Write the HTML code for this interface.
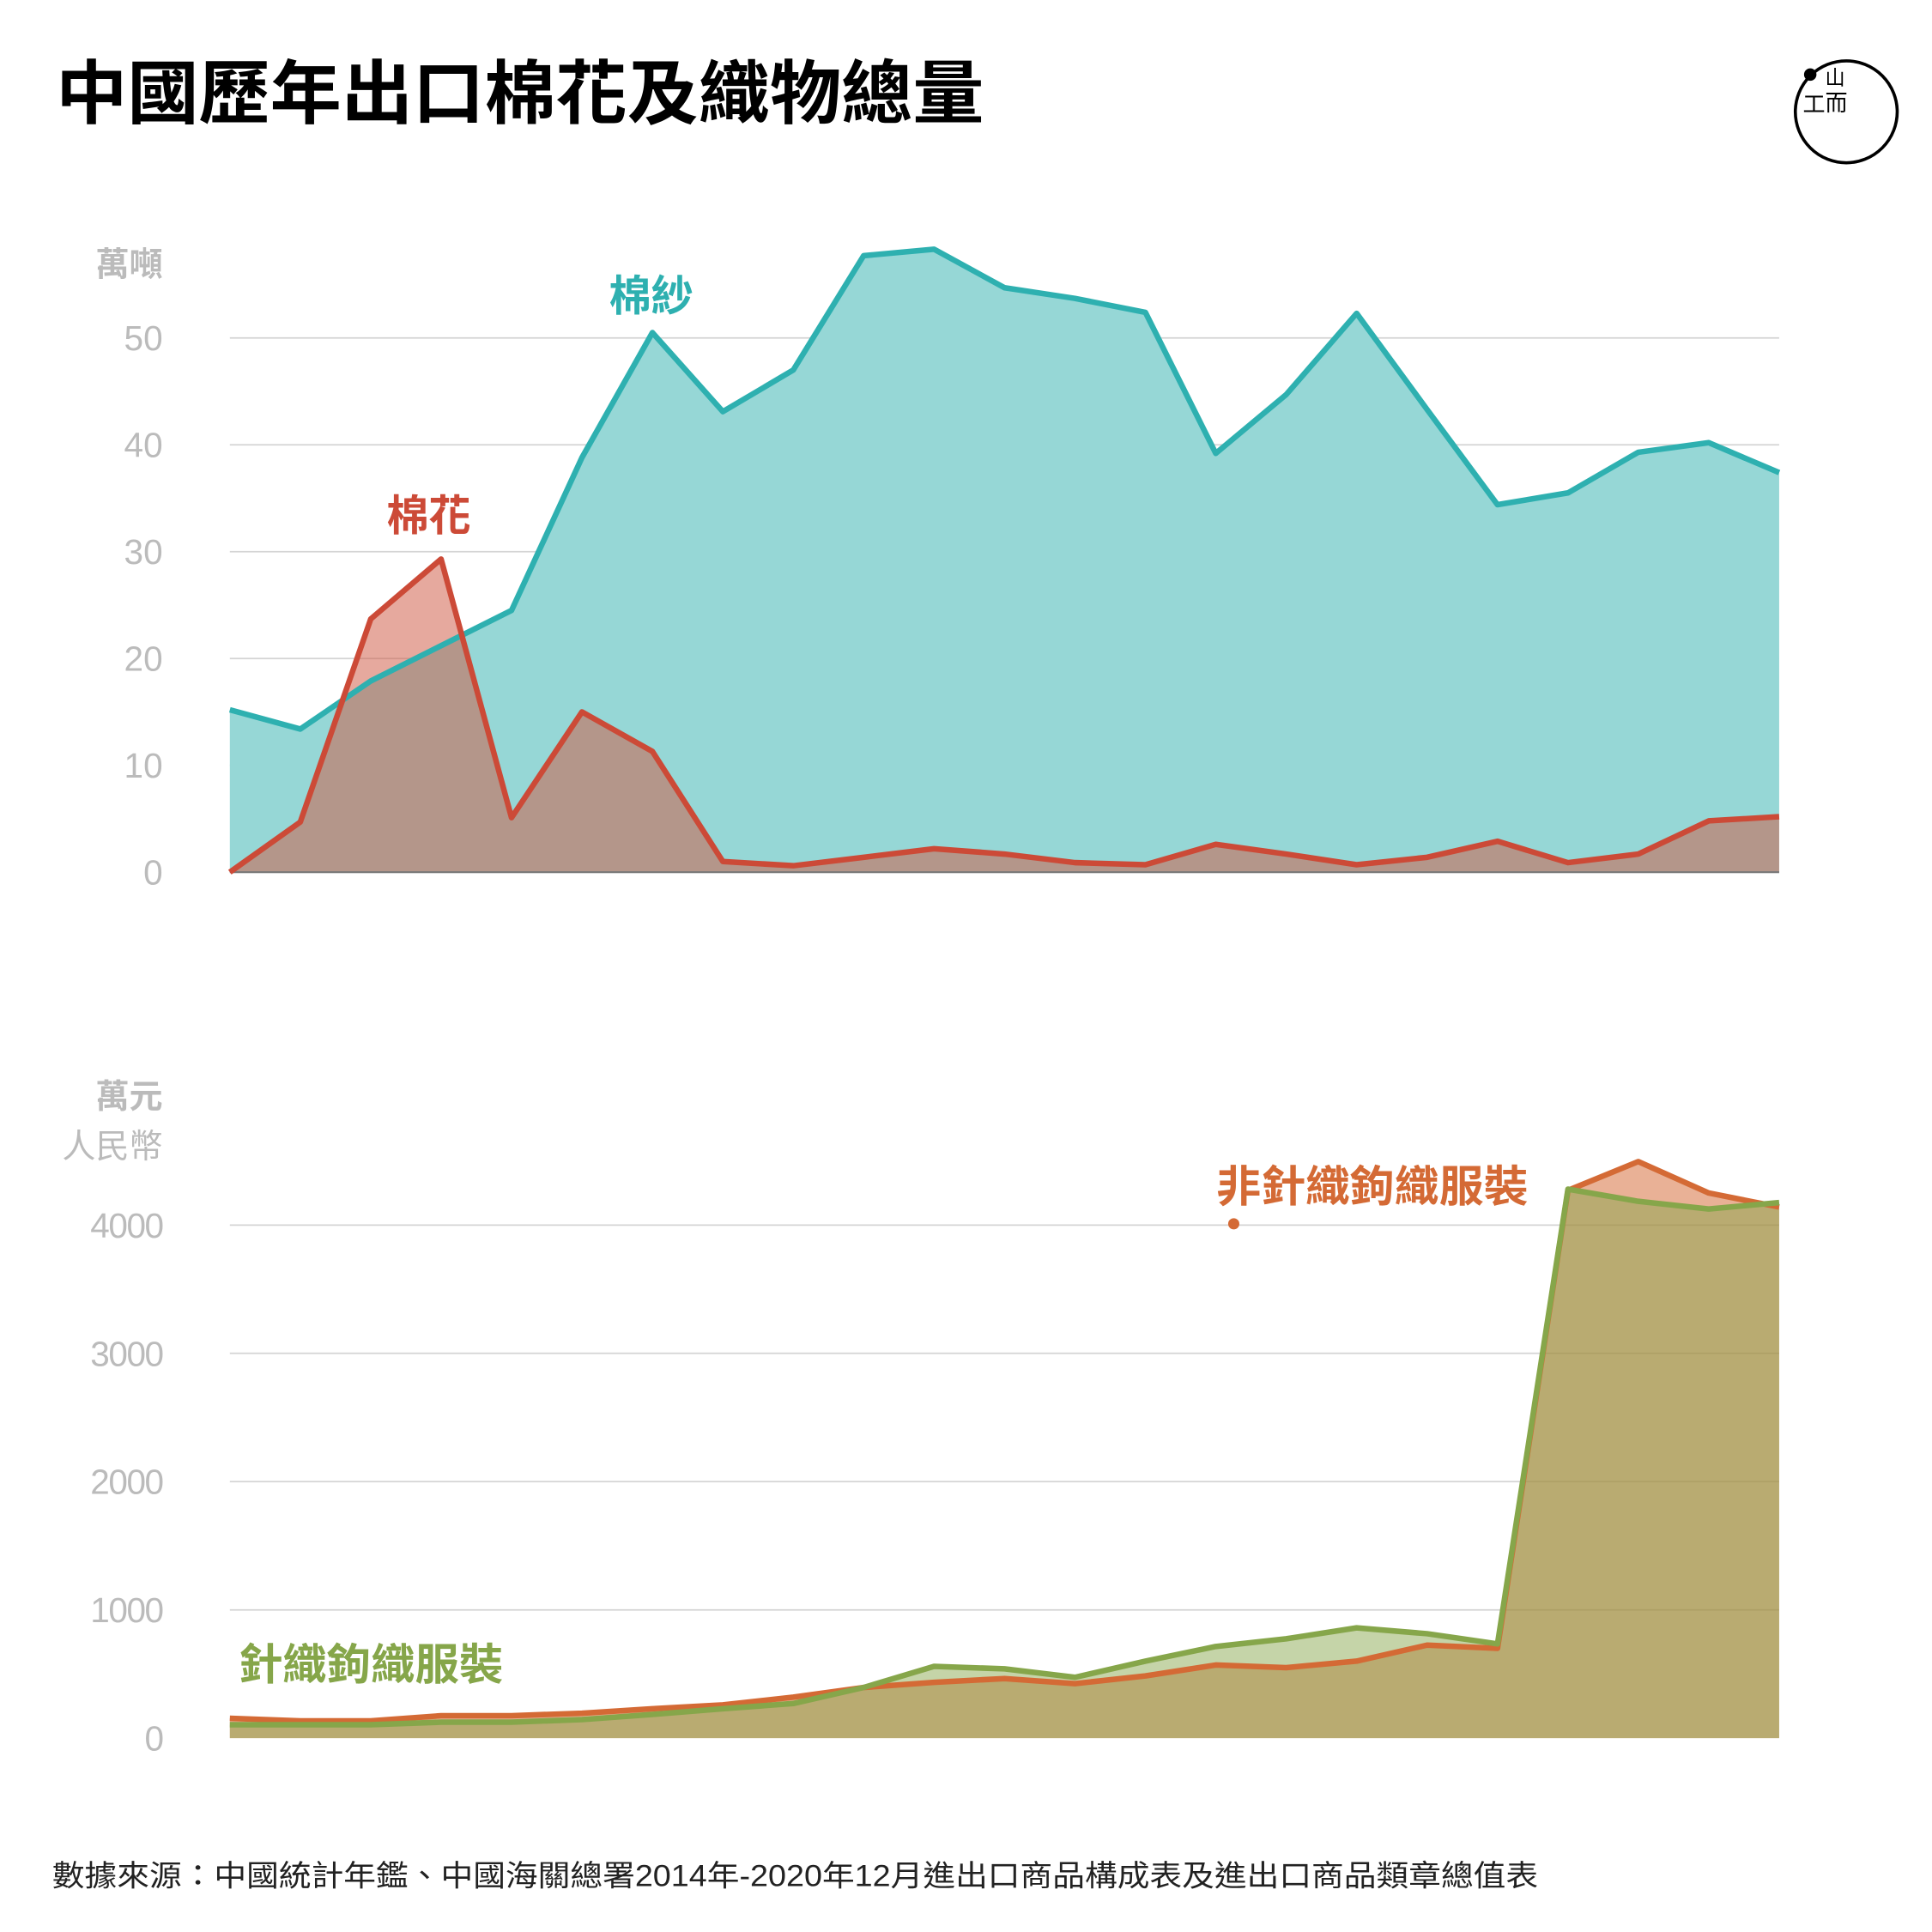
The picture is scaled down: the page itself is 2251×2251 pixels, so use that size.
<!DOCTYPE html>
<html><head><meta charset="utf-8">
<style>
html,body{margin:0;padding:0;background:#fff;}
svg{display:block;}
text{font-family:"Liberation Sans","Noto Sans CJK TC",sans-serif;}
</style></head>
<body>
<svg id="chart" width="2251" height="2251" viewBox="0 0 1555 1555" xmlns="http://www.w3.org/2000/svg">
<rect x="0" y="0" width="1555" height="1555" fill="#fff"/>
<text x="45" y="95" font-size="56" font-weight="bold" fill="#000" textLength="747" lengthAdjust="spacingAndGlyphs">中國歷年出口棉花及織物總量</text>
<g>
<circle cx="1486" cy="90" r="41" fill="none" stroke="#000" stroke-width="2.5"/>
<circle cx="1457" cy="60" r="5" fill="#000"/>
<text x="1451" y="90" font-size="18" fill="#000">工</text>
<text x="1469" y="68" font-size="16" fill="#000">山</text>
<text x="1469" y="89" font-size="18" fill="#000">而</text>
</g>
<g id="topChart"></g>
<g id="bottomChart"></g>
<text x="42" y="1518" font-size="24" fill="#222" textLength="1196" lengthAdjust="spacingAndGlyphs">數據來源：中國統計年鑑、中國海關總署2014年-2020年12月進出口商品構成表及進出口商品類章總值表</text>
</svg>
<script>
const years = [1,2,3,4,5,6,7,8,9,10,11,12,13,14,15,16,17,18,19,20,21,22,23];
const yarnValues = [15.2,13.4,17.9,21.2,24.5,38.8,50.5,43.1,47,57.7,58.3,54.7,53.7,52.4,39.2,44.7,52.3,43.3,34.4,35.5,39.3,40.2,37.4];
const cottonValues = [0,4.7,23.7,29.3,5.1,15,11.3,1,0.6,1.4,2.2,1.7,0.9,0.7,2.6,1.7,0.7,1.4,2.9,0.9,1.7,4.8,5.2];
const topTicks = [0,10,20,30,40,50];
const wovenValues = [155,135,135,175,175,195,230,260,320,395,435,465,425,485,570,550,600,725,700,4270,4495,4250,4140];
const knitValues = [105,105,105,125,125,145,185,230,270,395,560,540,475,600,715,775,860,815,735,4280,4185,4125,4175];
const bottomTicks = [0,1000,2000,3000,4000];

const NS = "http://www.w3.org/2000/svg";
const X0 = 185, X1 = 1432;
function xScale(i){ return X0 + (X1 - X0) * i / (years.length - 1); }
function yTop(v){ return 702 - v * 8.6; }
function yBot(v){ return 1399 - v * 0.10325; }
function mk(tag, attrs, parent){
  const e = document.createElementNS(NS, tag);
  for (const k in attrs) e.setAttribute(k, attrs[k]);
  parent.appendChild(e);
  return e;
}
function linePts(vals, ys){ return vals.map((v,i)=>xScale(i).toFixed(1)+","+ys(v).toFixed(1)).join(" "); }
function areaPts(vals, ys){ return xScale(0)+","+ys(0)+" "+linePts(vals, ys)+" "+xScale(vals.length-1)+","+ys(0); }

const topG = document.getElementById("topChart");
topTicks.forEach(t=>{
  const gl = mk("line",{x1:X0,x2:X1,y1:yTop(t),y2:yTop(t),stroke:"#d4d4d4","stroke-width":1.2},topG);
  
  
  const tl = mk("text",{x:131,y:yTop(t)+10,"font-size":28,fill:"#bbb","text-anchor":"end"},topG);
  tl.textContent = t;
  
  
});
const ya = mk("polygon",{points:areaPts(yarnValues,yTop),fill:"#96d7d6"},topG);


const ca = mk("polygon",{points:areaPts(cottonValues,yTop),fill:"#cf5a45","fill-opacity":0.52},topG);


const bl = mk("line",{x1:X0,x2:X1,y1:702,y2:702,stroke:"#777","stroke-width":1.5},topG);


const yl = mk("polyline",{points:linePts(yarnValues,yTop),fill:"none",stroke:"#2eb0b0","stroke-width":4.5,"stroke-linejoin":"round"},topG);


const cl = mk("polyline",{points:linePts(cottonValues,yTop),fill:"none",stroke:"#cc4a37","stroke-width":4.5,"stroke-linejoin":"round"},topG);


let t1 = mk("text",{x:131,y:222,"font-size":27,"font-weight":"bold",fill:"#bbb","text-anchor":"end"},topG);
t1.textContent="萬噸";


let t2 = mk("text",{x:490,y:250,"font-size":34,"font-weight":"bold",fill:"#2eb0b0"},topG);
t2.textContent="棉紗";


let t3 = mk("text",{x:311,y:427,"font-size":34,"font-weight":"bold",fill:"#cc4a37"},topG);
t3.textContent="棉花";



const botG = document.getElementById("bottomChart");
bottomTicks.forEach(t=>{
  if (t>0){
    const gl = mk("line",{x1:X0,x2:X1,y1:yBot(t),y2:yBot(t),stroke:"#d4d4d4","stroke-width":1.2},botG);
    
    
  }
  const tl = mk("text",{x:131,y:yBot(t)+10,"font-size":28,fill:"#bbb","text-anchor":"end","letter-spacing":"-1"},botG);
  tl.textContent = t;
  
  
});
const wa = mk("polygon",{points:areaPts(wovenValues,yBot),fill:"#d46a35","fill-opacity":0.52},botG);


const ka = mk("polygon",{points:areaPts(knitValues,yBot),fill:"#86a64a","fill-opacity":0.48},botG);


const wl = mk("polyline",{points:linePts(wovenValues,yBot),fill:"none",stroke:"#d46a35","stroke-width":4.5,"stroke-linejoin":"round"},botG);


const kl = mk("polyline",{points:linePts(knitValues,yBot),fill:"none",stroke:"#86a64a","stroke-width":4.5,"stroke-linejoin":"round"},botG);


let b1 = mk("text",{x:131,y:892,"font-size":27,"font-weight":"bold",fill:"#bbb","text-anchor":"end"},botG);
b1.textContent="萬元";


let b2 = mk("text",{x:131,y:932,"font-size":27,fill:"#bbb","text-anchor":"end"},botG);
b2.textContent="人民幣";


let b3 = mk("text",{x:979,y:967,"font-size":35,"font-weight":"bold",fill:"#d46a35",textLength:251,lengthAdjust:"spacingAndGlyphs"},botG);
b3.textContent="非針織鉤織服裝";


let dot = mk("circle",{cx:993,cy:985,r:4.5,fill:"#d46a35"},botG);


let b4 = mk("text",{x:192,y:1352,"font-size":35,"font-weight":"bold",fill:"#86a64a",textLength:213,lengthAdjust:"spacingAndGlyphs"},botG);
b4.textContent="針織鉤織服裝";


</script>
</body></html>
